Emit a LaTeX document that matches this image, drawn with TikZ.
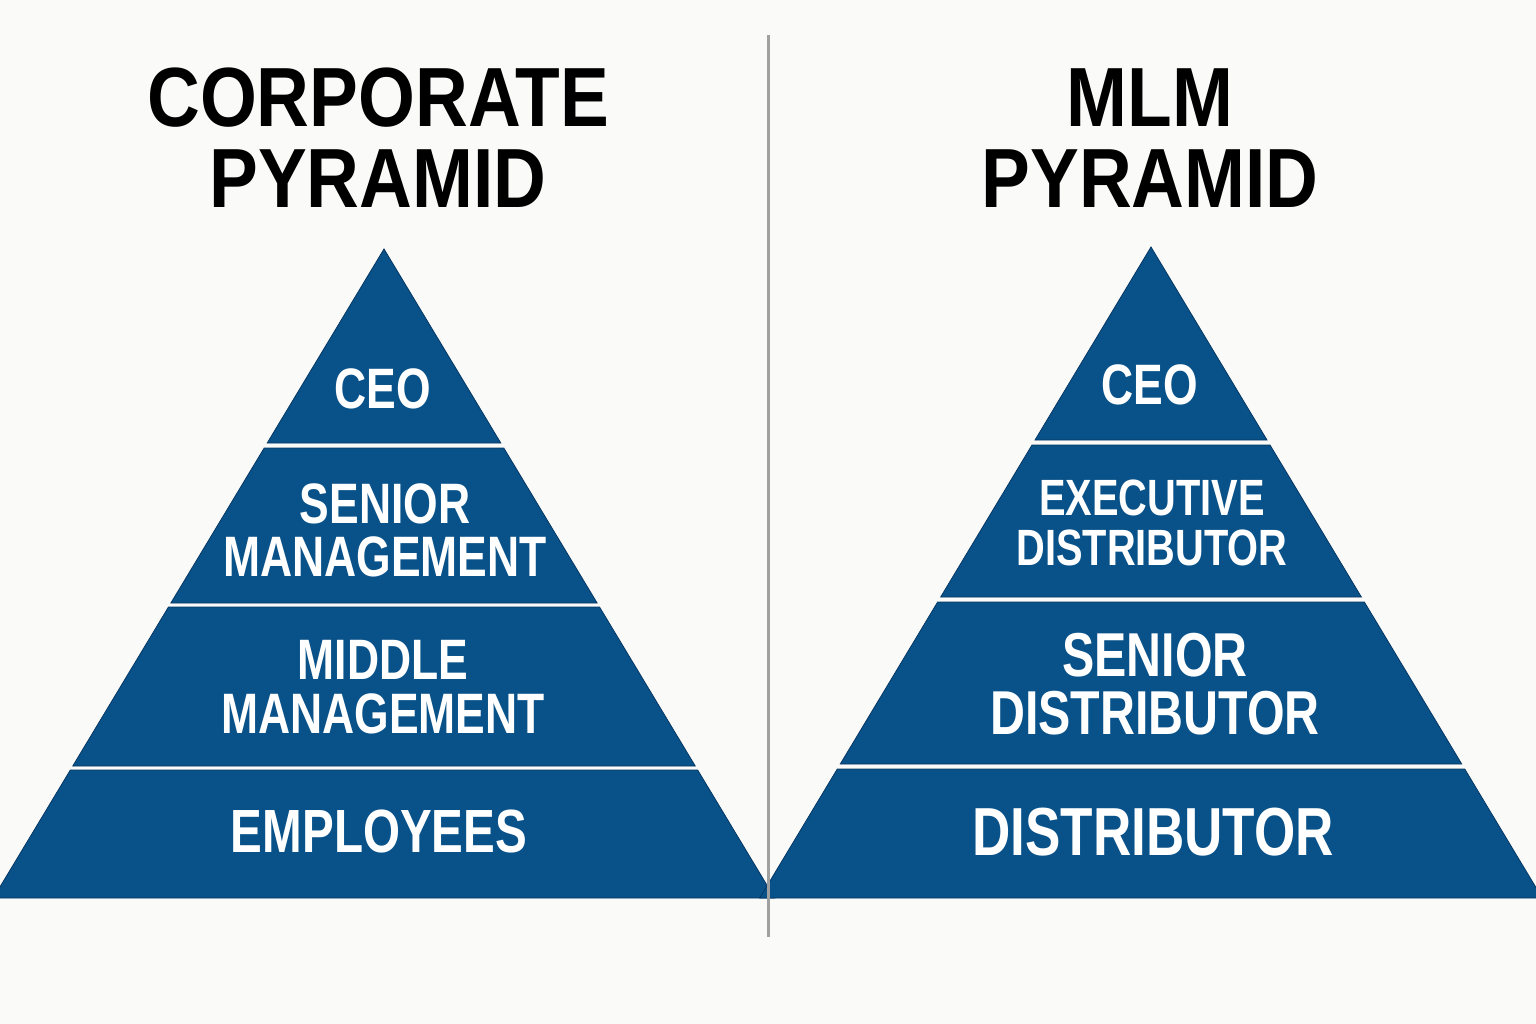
\documentclass[tikz,border=0pt]{standalone}
\usepackage{fontspec}
\usepackage{tikz}
\usetikzlibrary{positioning, calc}
\newfontfamily\headfont{Liberation Sans}[FakeStretch=0.87]
\newfontfamily\tierfont{Liberation Sans}[FakeStretch=0.78]
\definecolor{pyrblue}{RGB}{9,82,137}
\definecolor{pyredge}{RGB}{5,55,100}
\definecolor{paper}{RGB}{250,250,248}
\definecolor{divider}{RGB}{160,160,160}
\tikzset{
  band/.style={fill=pyrblue, draw=pyredge, line width=0.8pt},
  headline/.style={font=\headfont\bfseries\fontsize{84}{81}\selectfont, align=center, text=black},
  tier/.style n args={2}{font=\tierfont\bfseries\fontsize{#1}{#2}\selectfont, align=center, text=white}
}

\begin{document}
\begin{tikzpicture}[x=1pt, y=-1pt]
  \fill[paper] (0,0) rectangle (1536,1024);
  \useasboundingbox (0,0) rectangle (1536,1024);

  % Ueberschriften
  \node[headline] (corp-title) at (378,138) {CORPORATE\\PYRAMID};
  \node[headline] (mlm-title) at (1150,138) {MLM\\PYRAMID};

  % Stufen links: Spitze (384,249), Steigung 0.602
  \foreach \a/\b in {249/443, 448/603, 607/766, 770/898}
    \filldraw[band] ({384-0.602*(\a-249)},\a) -- ({384+0.602*(\a-249)},\a)
      -- ({384+0.602*(\b-249)},\b) -- ({384-0.602*(\b-249)},\b) -- cycle;

  % Stufen rechts: Spitze (1151,247), Steigung 0.601
  \foreach \a/\b in {247/440, 445/597, 602/764, 769/898}
    \filldraw[band] ({1151-0.601*(\a-247)},\a) -- ({1151+0.601*(\a-247)},\a)
      -- ({1151+0.601*(\b-247)},\b) -- ({1151-0.601*(\b-247)},\b) -- cycle;

  % Beschriftung links
  \node[tier={57}{53}] (corp-ceo) at (383,389) {CEO};
  \node[tier={57}{53}] (corp-senior) at (385,530) {SENIOR\\MANAGEMENT};
  \node[tier={57}{54}] (corp-middle) at (383,687) {MIDDLE\\MANAGEMENT};
  \node[tier={61}{55}] (corp-staff) at (379,831) {EMPLOYEES};

  % Beschriftung rechts
  \node[tier={57}{53}] (mlm-ceo) at (1150,385) {CEO};
  \node[tier={51}{50}] (mlm-exec) at (1152,523) {EXECUTIVE\\DISTRIBUTOR};
  \node[tier={62}{58}] (mlm-senior) at (1155,684) {SENIOR\\DISTRIBUTOR};
  \node[tier={68}{62}] (mlm-dist) at (1153,832) {DISTRIBUTOR};

  % Trennlinie
  \draw[divider, line width=3pt] (768,35) -- (768,937);
\end{tikzpicture}
\end{document}
